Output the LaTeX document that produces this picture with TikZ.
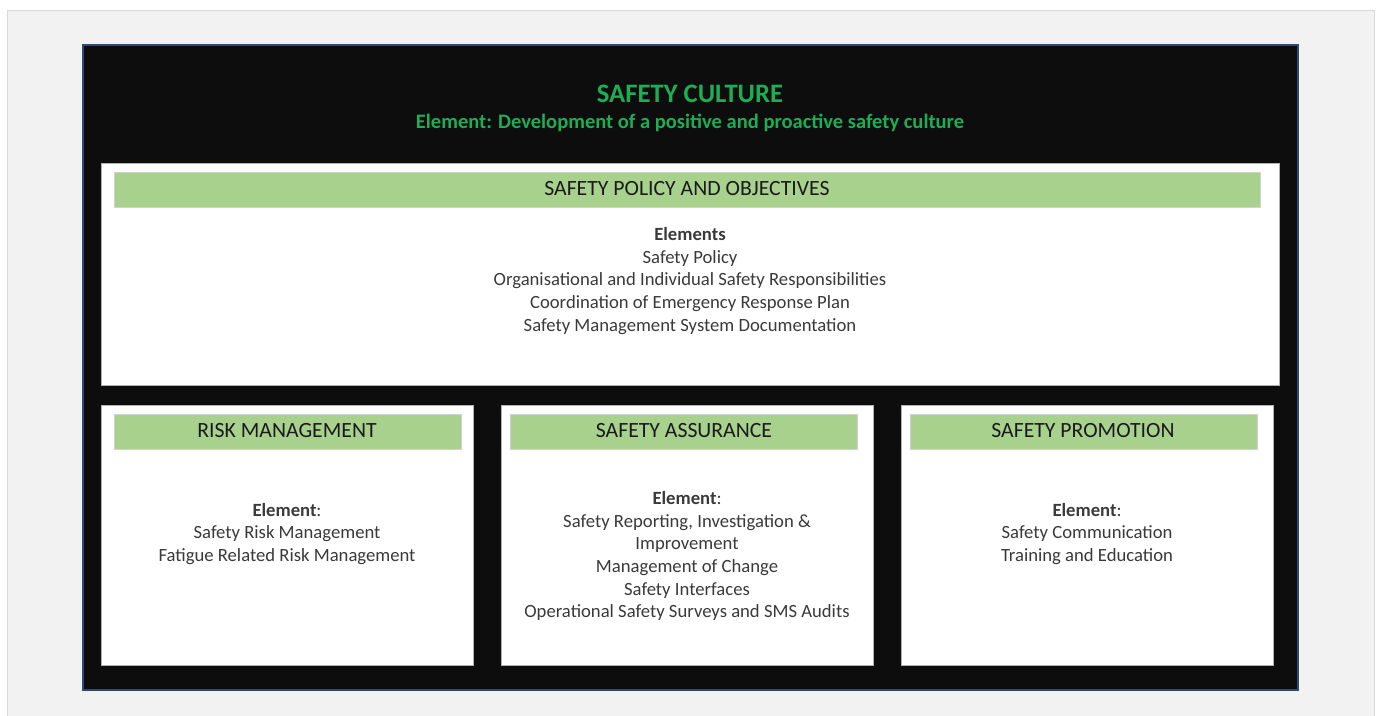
\documentclass[tikz,border=0pt]{standalone}
\usepackage{fontspec}
\setmainfont{Carlito}
\definecolor{panelgray}{HTML}{F2F2F2}
\definecolor{panelline}{HTML}{D9D9D9}
\definecolor{boardblack}{HTML}{0D0D0D}
\definecolor{boardline}{HTML}{2F4A7A}
\definecolor{culturegreen}{HTML}{1DAE55}
\definecolor{bargreen}{HTML}{A9D18E}
\definecolor{headtext}{HTML}{1A1A1A}
\definecolor{bodytext}{HTML}{3A3A3A}
\begin{document}
\begin{tikzpicture}[x=0.75pt,y=-0.75pt,
		card/.style={fill=white,draw=gray!60,line width=0.6pt},
		bar/.style={fill=bargreen,draw=gray!35,line width=0.6pt},
		head/.style={font=\fontsize{16.3}{18}\selectfont,text=headtext},
		body/.style={font=\fontsize{14}{17}\selectfont,text=bodytext,align=center}]
		\useasboundingbox [fill=white] (0,0) rectangle (1378,716);
		%Hintergrund
		\draw [fill=panelgray,draw=panelline] (7,10) rectangle (1374,720);
		\draw [fill=boardblack,draw=boardline,line width=0.8pt] (83,45) rectangle (1298,690);
		%Safety Culture
		\node [font=\fontsize{20}{22}\selectfont\bfseries,text=culturegreen] (culture) at (690,94) {SAFETY CULTURE};
		\node [font=\fontsize{15.4}{17}\selectfont\bfseries,text=culturegreen] (cultureel) at (690,123) {Element: Development of a positive and proactive safety culture};
		%Policy
		\draw [card] (101,163) rectangle (1279,385);
		\draw [bar] (114,172) rectangle (1260,207);
		\node [head] (policy) at (687,189) {SAFETY POLICY AND OBJECTIVES};
		\node [body] (policyel) at (690,281) {\textbf{Elements}\\Safety Policy\\Organisational and Individual Safety Responsibilities\\Coordination of Emergency Response Plan\\Safety Management System Documentation};
		%Risk Management
		\draw [card] (101,405) rectangle (473,665);
		\draw [bar] (114,414) rectangle (461,449);
		\node [head] (risk) at (287,431) {RISK MANAGEMENT};
		\node [body] (riskel) at (287,534) {\textbf{Element}:\\Safety Risk Management\\Fatigue Related Risk Management};
		%Safety Assurance
		\draw [card] (501,405) rectangle (873,665);
		\draw [bar] (510,414) rectangle (857,449);
		\node [head] (assurance) at (684,431) {SAFETY ASSURANCE};
		\node [body] (assuranceel) at (687,556) {\textbf{Element}:\\Safety Reporting, Investigation \&\\Improvement\\Management of Change\\Safety Interfaces\\Operational Safety Surveys and SMS Audits};
		%Safety Promotion
		\draw [card] (901,405) rectangle (1273,665);
		\draw [bar] (910,414) rectangle (1257,449);
		\node [head] (promotion) at (1083,431) {SAFETY PROMOTION};
		\node [body] (promotionel) at (1087,534) {\textbf{Element}:\\Safety Communication\\Training and Education};
\end{tikzpicture}
\end{document}
